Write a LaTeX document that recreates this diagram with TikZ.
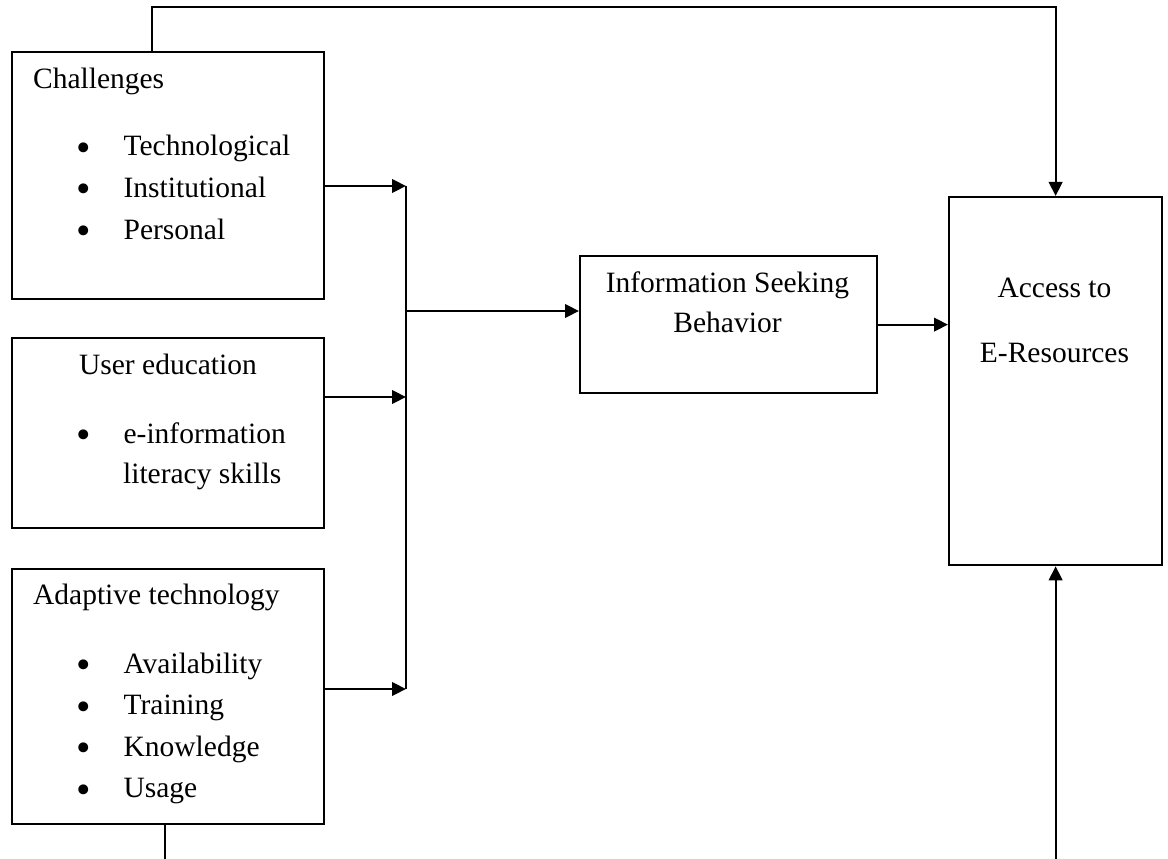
\documentclass[tikz,border=0pt]{standalone}
\usepackage{fontspec}
\setmainfont{Liberation Serif}
\usetikzlibrary{arrows.meta,positioning}

\begin{document}
\begin{tikzpicture}[x=0.4pt, y=-0.4pt, >={Triangle[length=5.6pt,width=5.4pt]}, line width=0.9pt,
    box/.style={draw, rectangle, anchor=north west, inner sep=0pt},
    txt/.style={anchor=base west, inner sep=0pt, font=\fontsize{11.8}{14}\selectfont},
    ctxt/.style={txt, anchor=base},
    item/.style={txt, execute at begin node={\makebox[19pt][l]{\raisebox{-2.2pt}{\scalebox{1.4}{\textbullet}}}}}]
    \useasboundingbox (0,0) rectangle (1168,859);

    % Boxes
    \node [box, minimum width=124.8pt, minimum height=98.8pt]   (chal)   at (11,51)   {};
    \node [box, minimum width=124.8pt, minimum height=76pt]     (edu)    at (11,337)  {};
    \node [box, minimum width=124.8pt, minimum height=102pt]    (adapt)  at (11,568)  {};
    \node [box, minimum width=118.8pt, minimum height=54.8pt]   (isb)    at (579,255) {};
    \node [box, minimum width=85.2pt,  minimum height=147.2pt]  (access) at (948,196) {};

    % Texts
    \node [txt]  (chal-h)  at (32,89)  {Challenges};
    \foreach \t [count=\i] in {Technological, Institutional, Personal}
        \node [item] (chal-\i) at (75,{114.5+41.5*\i}) {\t};

    \node [txt]  (edu-h)   at (78,375)  {User education};
    \node [item] (edu-1)   at (75,443)  {e-information};
    \node [txt]  (edu-2)   at (122,483) {literacy skills};

    \node [txt]  (adapt-h) at (32,604) {Adaptive technology};
    \foreach \t [count=\i] in {Availability, Training, Knowledge, Usage}
        \node [item] (adapt-\i) at (75,{631.5+41.5*\i}) {\t};

    \node [ctxt] (isb-1)    at (727.5,293)  {Information Seeking};
    \node [ctxt] (isb-2)    at (727.5,332)  {Behavior};
    \node [ctxt] (access-1) at (1054.5,298) {Access to};
    \node [ctxt] (access-2) at (1054.5,363) {E-Resources};

    % Bus and end points
    \coordinate (bus-t) at (406,186);
    \coordinate (bus-m) at (406,311);
    \coordinate (bus-e) at (406,397);
    \coordinate (bus-b) at (406,689);
    \coordinate (top)   at (152,7);
    \coordinate (bot)   at (165,859);

    % Paths
    \draw [->] (chal.east |- bus-t)  -- (bus-t);
    \draw [->] (edu.east |- bus-e)   -- (bus-e);
    \draw [->] (adapt.east |- bus-b) -- (bus-b);
    \draw      (bus-t) -- (bus-b);
    \draw [->] (bus-m) -- (isb.west |- bus-m);
    \draw [->] (isb.east) -- (isb.east -| access.west);
    \draw [->] (chal.north -| top) |- (access.north |- top) -- (access.north);
    \draw      (adapt.south -| bot) -- (bot);
    \draw [->] (access.south |- bot) -- (access.south);

\end{tikzpicture}
\end{document}
